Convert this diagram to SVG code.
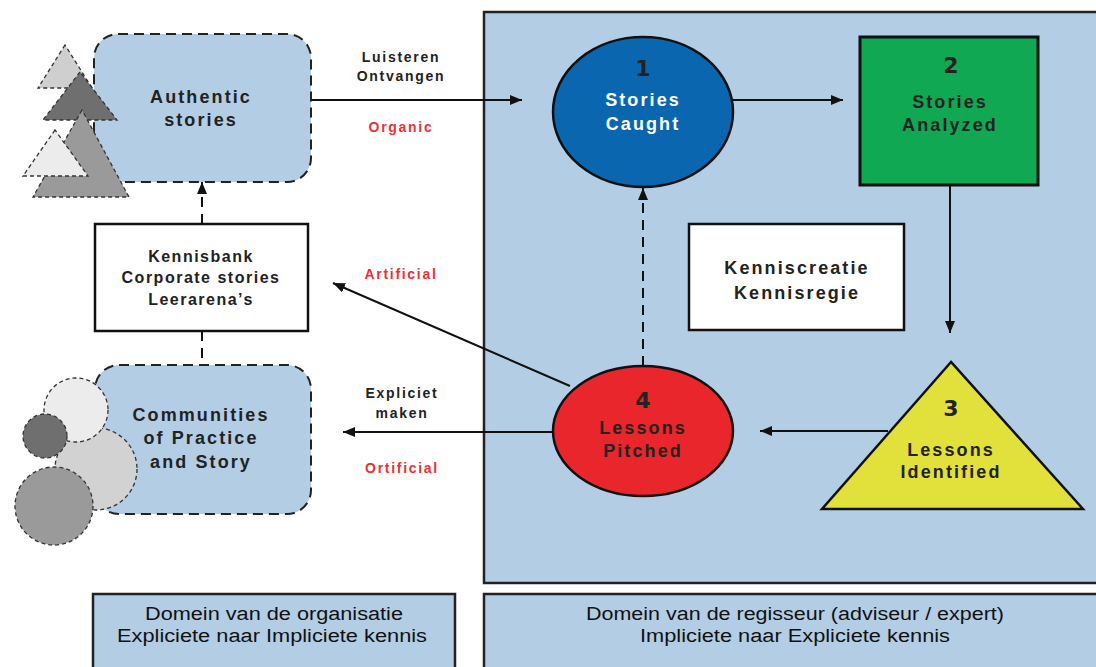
<svg xmlns="http://www.w3.org/2000/svg" width="1096" height="667" viewBox="0 0 1096 667">
<defs>
<marker id="ah" viewBox="0 0 12 10" refX="12" refY="5" markerWidth="12" markerHeight="10" markerUnits="userSpaceOnUse" orient="auto">
<path d="M0,0 L12,5 L0,10 Z" fill="#111"/>
</marker>
<style>
.t{font-family:"Liberation Sans",Arial,sans-serif;font-weight:bold;text-anchor:middle;fill:#222}
.n{font-size:18px;letter-spacing:2.1px}
.s{font-size:16px;letter-spacing:1.5px}
.l{font-size:14px;letter-spacing:1.7px}
.red{fill:#e8323a}
.w{fill:#fff}
.d{font-family:"DejaVu Sans",sans-serif;font-weight:bold;font-size:22px;text-anchor:middle;fill:#222}
.nar{font-family:"Liberation Sans",Arial,sans-serif;font-size:18px;text-anchor:middle;fill:#111}
.dash{fill:none;stroke:#222;stroke-width:2;stroke-dasharray:10 6}
.sd{stroke:#333;stroke-width:1.3;stroke-dasharray:4 3}
.blue{fill:#b3cde5}
.line{fill:none;stroke:#111;stroke-width:2}
</style>
</defs>
<rect width="1096" height="667" fill="#fff"/>
<g id="panel-regisseur">
<rect x="484" y="12" width="620" height="571" class="blue" stroke="#222" stroke-width="2.5"/>
</g>
<g id="domein-organisatie">
<rect x="93" y="594" width="362" height="80" class="blue" stroke="#222" stroke-width="2.5"/>
<text class="nar" x="274" y="620" textLength="258" lengthAdjust="spacingAndGlyphs">Domein van de organisatie</text>
<text class="nar" x="272" y="642" textLength="310" lengthAdjust="spacingAndGlyphs">Expliciete naar Impliciete kennis</text>
</g>
<g id="domein-regisseur">
<rect x="484" y="594" width="620" height="80" class="blue" stroke="#222" stroke-width="2.5"/>
<text class="nar" x="795" y="620" textLength="418" lengthAdjust="spacingAndGlyphs">Domein van de regisseur (adviseur / expert)</text>
<text class="nar" x="795" y="642" textLength="310" lengthAdjust="spacingAndGlyphs">Impliciete naar Expliciete kennis</text>
</g>
<g id="authentic">
<rect x="94" y="34" width="217" height="148" rx="24" class="blue dash"/>
<polygon points="65,45 38,88 92,88" fill="#cfcfcf" class="sd"/>
<polygon points="80,72 43,120 117,120" fill="#6f6f6f" class="sd"/>
<polygon points="82,110 33,197 129,197" fill="#9a9a9a" class="sd"/>
<polygon points="55,130 23,176 88,176" fill="#ececec" class="sd"/>
<text class="t n" x="201" y="103">Authentic</text>
<text class="t n" x="201" y="126">stories</text>
</g>
<g id="kennisbank">
<rect x="95" y="224" width="213" height="107" fill="#fff" stroke="#111" stroke-width="2.5"/>
<text class="t s" x="201" y="262">Kennisbank</text>
<text class="t s" x="201" y="283">Corporate stories</text>
<text class="t s" x="201" y="305">Leerarena’s</text>
</g>
<g id="communities">
<rect x="95" y="365" width="216" height="149" rx="24" class="blue dash"/>
<circle cx="96" cy="469" r="41" fill="#d2d2d2" class="sd"/>
<circle cx="76" cy="410" r="32" fill="#ececec" class="sd"/>
<circle cx="45" cy="436" r="22" fill="#6f6f6f" class="sd"/>
<circle cx="54" cy="506" r="39" fill="#9a9a9a" class="sd"/>
<text class="t n" x="201" y="421">Communities</text>
<text class="t n" x="201" y="444">of Practice</text>
<text class="t n" x="201" y="468">and Story</text>
</g>
<g id="stories-caught">
<ellipse cx="643" cy="112" rx="90" ry="75" fill="#0b66b0" stroke="#111" stroke-width="2.5"/>
<text class="d" x="643" y="76">1</text>
<text class="t n w" x="643" y="106">Stories</text>
<text class="t n w" x="643" y="130">Caught</text>
</g>
<g id="stories-analyzed">
<rect x="860" y="37" width="178" height="148" fill="#10a852" stroke="#111" stroke-width="3"/>
<text class="d" x="951" y="73">2</text>
<text class="t n" x="950" y="108">Stories</text>
<text class="t n" x="950" y="131">Analyzed</text>
</g>
<g id="kenniscreatie">
<rect x="689" y="224" width="215" height="106" fill="#fff" stroke="#111" stroke-width="2.5"/>
<text class="t n" x="797" y="274">Kenniscreatie</text>
<text class="t n" x="797" y="299">Kennisregie</text>
</g>
<g id="lessons-identified">
<polygon points="951,362 822,509 1083,509" fill="#e2e03a" stroke="#111" stroke-width="2.5" stroke-linejoin="miter"/>
<text class="d" x="951" y="416">3</text>
<text class="t n" x="951" y="456">Lessons</text>
<text class="t n" x="951" y="478">Identified</text>
</g>
<g id="lessons-pitched">
<ellipse cx="643" cy="431" rx="90" ry="65" fill="#e8262b" stroke="#111" stroke-width="2.5"/>
<text class="d" x="643" y="408">4</text>
<text class="t n" x="643" y="434">Lessons</text>
<text class="t n" x="643" y="457">Pitched</text>
</g>
<g id="connectors">
<line x1="312" y1="100" x2="522" y2="100" class="line" marker-end="url(#ah)"/>
<line x1="733" y1="100" x2="843" y2="100" class="line" marker-end="url(#ah)"/>
<line x1="950" y1="185" x2="950" y2="333" class="line" marker-end="url(#ah)"/>
<line x1="888" y1="431" x2="760" y2="431" class="line" marker-end="url(#ah)"/>
<line x1="643" y1="366" x2="643" y2="188" class="line" stroke-dasharray="10 7" marker-end="url(#ah)"/>
<line x1="570" y1="386" x2="333" y2="283" class="line" marker-end="url(#ah)"/>
<line x1="553" y1="432" x2="343" y2="432" class="line" marker-end="url(#ah)"/>
<line x1="202" y1="224" x2="202" y2="182" class="line" stroke-dasharray="10 7" marker-end="url(#ah)"/>
<line x1="202" y1="331" x2="202" y2="365" class="line" stroke-dasharray="10 7"/>
</g>
<g id="labels">
<text class="t l" x="401" y="62">Luisteren</text>
<text class="t l" x="401" y="81">Ontvangen</text>
<text class="t l red" x="401" y="132">Organic</text>
<text class="t l red" x="401" y="279">Artificial</text>
<text class="t l" x="402" y="398">Expliciet</text>
<text class="t l" x="402" y="418">maken</text>
<text class="t l red" x="402" y="473">Ortificial</text>
</g>
</svg>
